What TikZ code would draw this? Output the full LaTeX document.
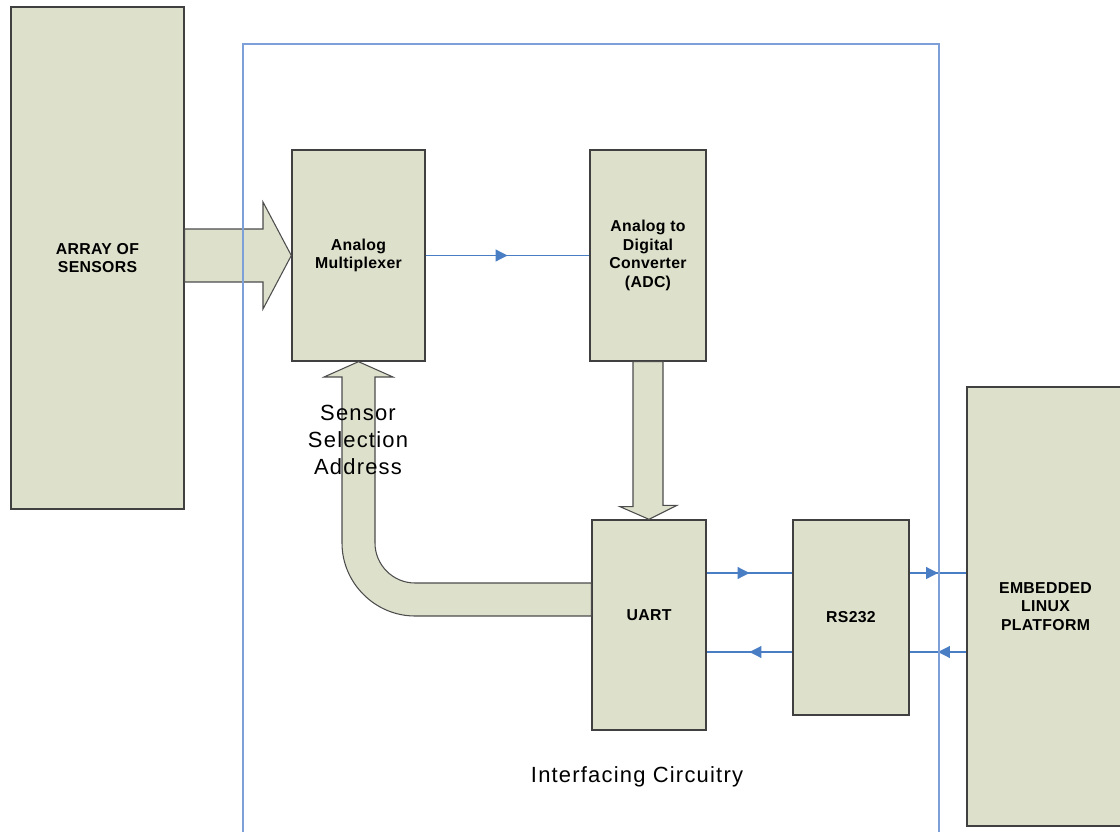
\documentclass[tikz,border=0pt]{standalone}
\usepackage{fontspec}
\setmainfont[LetterSpace=2]{Liberation Sans}
\newfontfamily\widesans[LetterSpace=5.5]{Liberation Sans}
\usetikzlibrary{calc,positioning,arrows.meta,decorations.markings}
\definecolor{boxfill}{RGB}{221,224,203}
\definecolor{sigblue}{RGB}{74,126,196}
\definecolor{frameblue}{RGB}{125,160,216}

\begin{document}
\begin{tikzpicture}[x=0.02cm,y=-0.02cm,
   blk/.style={rectangle,draw=black!75,line width=0.8pt,fill=boxfill,align=center,
               font=\fontsize{9}{10.5}\selectfont\bfseries,inner sep=0pt},
   fat/.style={draw=black!70,line width=0.6pt,fill=boxfill,line join=miter},
   sig/.style={sigblue,line width=0.7pt,postaction={decorate},
               decoration={markings,mark=at position 0.5 with
                 {\arrow{Triangle[length=6.8pt,width=6.8pt]}}}},
   txt/.style={font=\widesans\fontsize{12.5}{15.3}\selectfont,align=center}]
   \useasboundingbox (0,0) rectangle (1120,832);
   \clip (0,0) rectangle (1120,832);
   % blocks
   \node[blk,minimum width=3.46cm,minimum height=10.04cm] (sens) at (97.5,258) {ARRAY OF\\SENSORS};
   \node[blk,minimum width=2.66cm,minimum height=4.22cm] (mux) at (358.5,255.5) {Analog\\Multiplexer};
   \node[blk,minimum width=2.32cm,minimum height=4.22cm] (adc) at (648,255.5) {Analog to\\Digital\\Converter\\(ADC)};
   \node[blk,minimum width=2.28cm,minimum height=4.2cm,
         label={[blk,draw=none,yshift=0.2cm]center:UART}] (uart) at (649,625) {};
   \node[blk,minimum width=2.32cm,minimum height=3.9cm] (rs) at (851,617.5) {RS232};
   \node[blk,minimum width=3.14cm,minimum height=8.78cm] (emb) at (1045.5,606.5) {EMBEDDED\\LINUX\\PLATFORM};
   % block arrows
   \draw[fat] (sens.east |- 0,229) -- (263,229) -- (263,202) -- (mux.west) -- (263,309) -- (263,282)
              -- (sens.east |- 0,282) -- cycle;
   \draw[fat] ($(adc.south)+(-15,0)$) -- ++(0,145) -- ++(-13,0) -- (uart.north) -- ++(28,-14)
              -- ++(-14,0) -- ($(adc.south)+(15,0)$) -- cycle;
   \draw[fat] (uart.west |- 0,583) -- (415,583) .. controls (393,583) and (375,565) .. (375,543)
              -- (375,377) -- (393,377) -- (mux.south) -- (324,377) -- (342,377) -- (342,543)
              .. controls (342,583) and (375,616) .. (415,616) -- (uart.west |- 0,616) -- cycle;
   % signals
   \draw[sig] (mux.east) -- (adc.west);
   \draw[sig] (uart.east |- 0,573) -- (rs.west |- 0,573);
   \draw[sig] (rs.west |- 0,652) -- (uart.east |- 0,652);
   \draw[sig] (rs.east |- 0,573) -- (emb.west |- 0,573);
   \draw[sig] (emb.west |- 0,652) -- (rs.east |- 0,652);
   % interface boundary
   \draw[frameblue,line width=0.8pt] (243,840) |- (939,44) -- (939,840);
   \node[txt] (addr) at (358,440) {Sensor\\Selection\\Address};
   \node[txt] (ifc) at (637,777) {Interfacing Circuitry};
\end{tikzpicture}
\end{document}
